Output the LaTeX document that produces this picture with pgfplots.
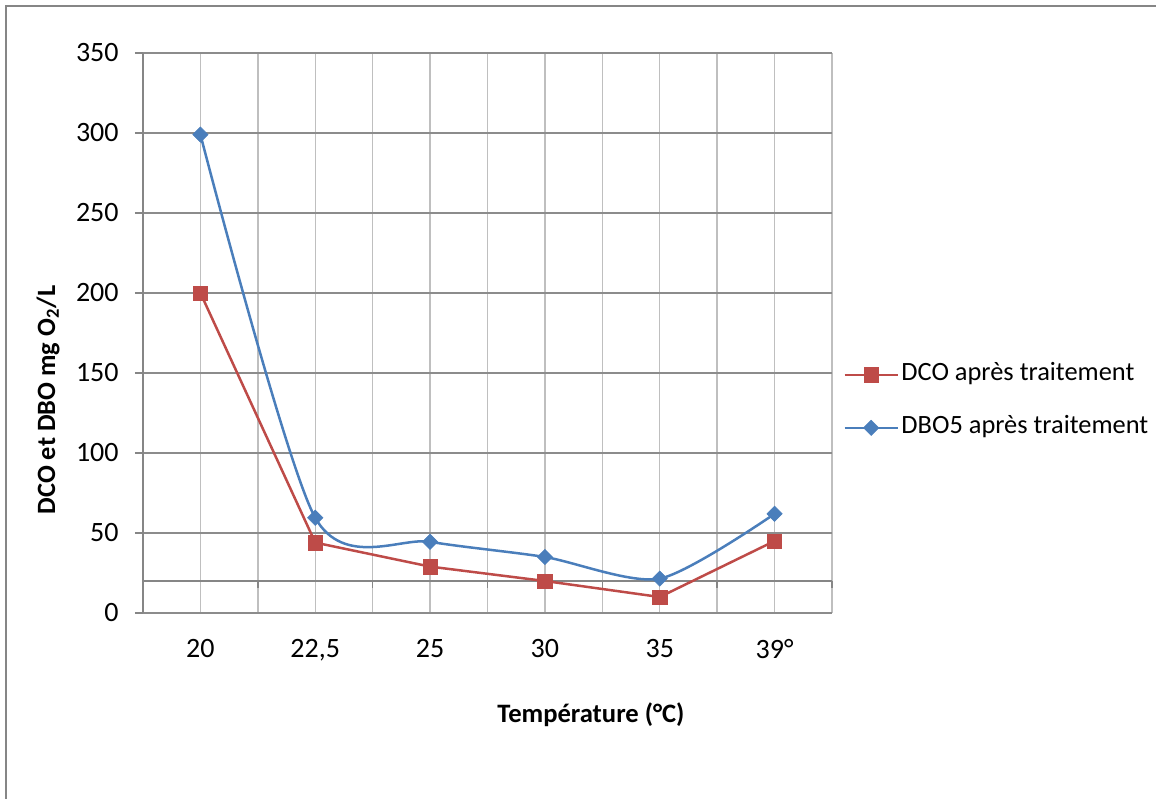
\documentclass[border=0pt]{standalone}
\usepackage{fontspec}
\setmainfont{Carlito}
\usepackage{pgfplots}
\pgfplotsset{compat=1.18}
\definecolor{dcored}{HTML}{BE4B48}
\definecolor{dboblue}{HTML}{4A7EBB}
\definecolor{hgrid}{HTML}{8C8C8C}
\definecolor{vgrid}{HTML}{BFBFBF}
\definecolor{axgray}{HTML}{868686}
\begin{document}
\begin{tikzpicture}
\useasboundingbox (0,0) rectangle (578pt,399pt);
\clip (0,0) rectangle (578pt,399pt);
\draw[color=axgray, line width=1pt] (3pt,-20pt) rectangle (600pt,396pt);
\begin{axis}[
  at={(71.5pt,92.5pt)}, anchor=south west,
  scale only axis, width=344.5pt, height=280pt,
  xmin=-0.5, xmax=5.5, ymin=0, ymax=350,
  xtick={0,...,5},
  xticklabels={20,{22,5},25,30,35,39°},
  minor xtick={-0.5,0.5,...,5.5},
  ytick={0,50,...,350},
  axis y line*=left, axis x line*=bottom,
  x axis line style={draw=none},
  y axis line style={color=axgray, line width=0.75pt},
  xmajorgrids, xminorgrids, ymajorgrids,
  x grid style={color=vgrid, line width=0.75pt},
  minor x grid style={color=vgrid, line width=0.75pt},
  y grid style={color=hgrid, line width=0.75pt},
  xtick style={draw=none},
  minor tick length=0pt,
  ytick style={color=axgray, line width=0.75pt},
  tick align=outside, major tick length=4pt,
  /pgf/number format/assume math mode=true,
  ticklabel style={font=\fontsize{14}{16}\selectfont},
  yticklabel style={inner sep=0pt, xshift=-8pt},
  xticklabel style={inner sep=0pt, yshift=-9pt},
  legend style={at={(axis description cs:1.016,0.378)}, anchor=west,
    draw=none, fill=none, inner sep=0pt,
    font=\fontsize{13.2}{15}\selectfont, row sep=12pt,
    nodes={inner sep=1.25pt, text height=9pt, text depth=3pt}},
  legend cell align=left,
  legend image code/.code={\draw[mark repeat=2,mark phase=2,#1] plot coordinates {(0pt,0pt) (13.25pt,0pt) (26.5pt,0pt)};},
  clip=false,
]
\draw[color=axgray, line width=1pt] (axis cs:-0.5,20) -- (axis cs:5.5,20);
\pgfplotsinvokeforeach{-0.5,0.5,1.5,2.5,3.5,4.5,5.5}{
  \draw[color=axgray, line width=0.75pt] (axis cs:#1,20) -- ++(0pt,-3.5pt);
}
\addplot[color=dcored, line width=1.25pt, mark=square*, mark size=3.6pt,
  mark options={fill=dcored, draw=dcored, line width=0.3pt}]
  coordinates {(0,200) (1,44) (2,29) (3,20) (4,10) (5,45)};
\addlegendentry{DCO après traitement}
\addplot[color=dboblue, line width=1.25pt, smooth, tension=0.45, mark=square*, mark size=2.7pt,
  mark options={fill=dboblue, draw=dboblue, rotate=45, line width=0.3pt}]
  coordinates {(0,299) (1,59.5) (2,44.5) (3,35) (4,21.5) (5,62)};
\addlegendentry{DBO5 après traitement}
\end{axis}
\node[rotate=90, font=\fontsize{13.2}{15}\selectfont\bfseries] at (24pt,199pt) {DCO et DBO mg O\textsubscript{2}/L};
\node[font=\fontsize{13.3}{15}\selectfont\bfseries] at (295.5pt,41.5pt) {Température (°C)};
\end{tikzpicture}
\end{document}
